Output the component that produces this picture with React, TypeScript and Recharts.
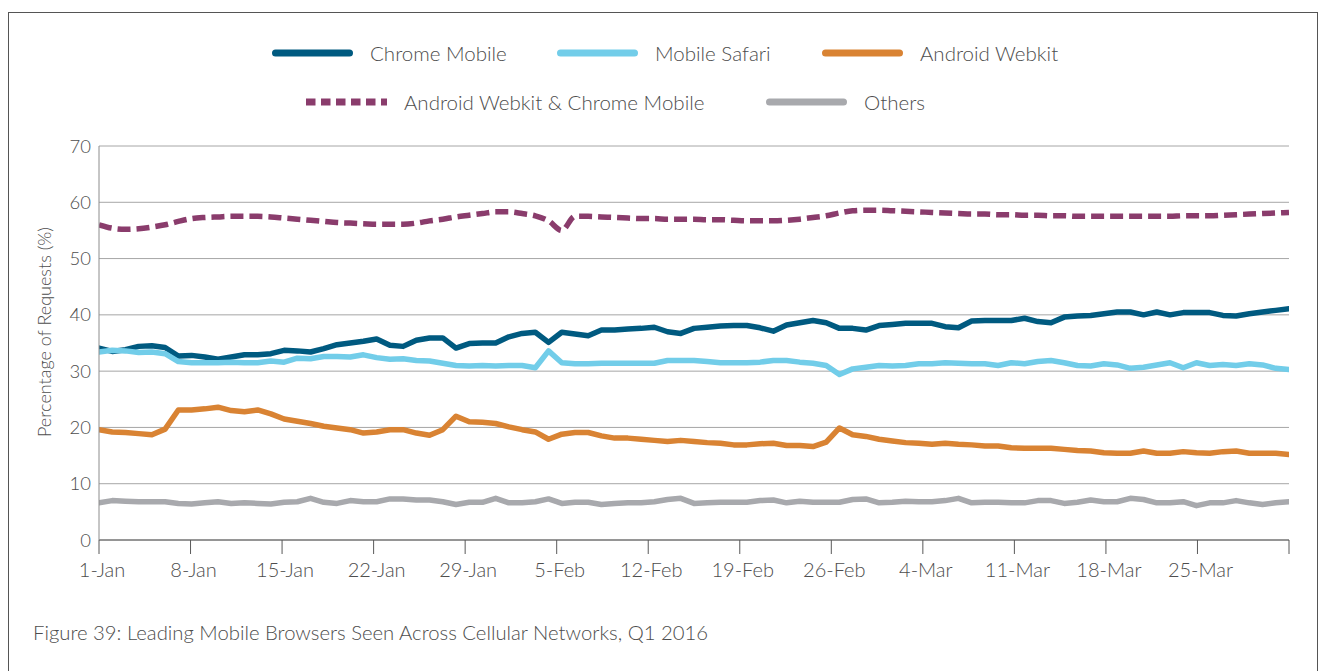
import { LineChart, Line, XAxis, YAxis, CartesianGrid } from 'recharts'

// one value per day, 1-Jan .. 31-Mar 2016
const chromeMobile = [
  34.1, 33.5, 33.8, 34.4, 34.5, 34.2, 32.7, 32.8, 32.5, 32.1, 32.5, 32.9, 32.9, 33.1, 33.7, 33.6,
  33.4, 34.0, 34.7, 35.0, 35.3, 35.7, 34.6, 34.4, 35.5, 35.9, 35.9, 34.1, 34.9, 35.0, 35.0, 36.1,
  36.7, 36.9, 35.1, 36.9, 36.6, 36.3, 37.3, 37.3, 37.5, 37.6, 37.8, 37.0, 36.7, 37.6, 37.8, 38.0,
  38.1, 38.1, 37.7, 37.1, 38.2, 38.6, 39.0, 38.6, 37.6, 37.6, 37.3, 38.1, 38.3, 38.5, 38.5, 38.5,
  37.9, 37.7, 38.9, 39.0, 39.0, 39.0, 39.4, 38.8, 38.6, 39.6, 39.8, 39.9, 40.2, 40.5, 40.5, 40.0,
  40.5, 40.0, 40.4, 40.4, 40.4, 39.9, 39.8, 40.2, 40.5, 40.8, 41.1,
]
const mobileSafari = [
  33.4, 33.7, 33.6, 33.3, 33.4, 33.1, 31.7, 31.5, 31.5, 31.5, 31.6, 31.5, 31.5, 31.8, 31.6, 32.3,
  32.2, 32.6, 32.6, 32.5, 32.9, 32.4, 32.1, 32.2, 31.9, 31.8, 31.4, 31.0, 30.9, 31.0, 30.9, 31.0,
  31.0, 30.6, 33.6, 31.5, 31.3, 31.3, 31.4, 31.4, 31.4, 31.4, 31.4, 31.9, 31.9, 31.9, 31.7, 31.5,
  31.5, 31.5, 31.6, 31.9, 31.9, 31.6, 31.4, 31.0, 29.4, 30.4, 30.7, 31.0, 30.9, 31.0, 31.3, 31.3,
  31.5, 31.4, 31.3, 31.3, 31.0, 31.5, 31.3, 31.7, 31.9, 31.5, 31.0, 30.9, 31.3, 31.1, 30.5, 30.7,
  31.1, 31.5, 30.6, 31.5, 31.0, 31.2, 31.0, 31.3, 31.1, 30.5, 30.3,
]
const androidWebkit = [
  19.6, 19.2, 19.1, 18.9, 18.7, 19.7, 23.1, 23.1, 23.3, 23.6, 23.0, 22.8, 23.1, 22.4, 21.5, 21.1,
  20.7, 20.2, 19.9, 19.6, 19.0, 19.2, 19.6, 19.6, 19.0, 18.6, 19.6, 22.0, 21.0, 20.9, 20.7, 20.1,
  19.6, 19.2, 17.9, 18.8, 19.1, 19.1, 18.5, 18.1, 18.1, 17.9, 17.7, 17.5, 17.7, 17.5, 17.3, 17.2,
  16.9, 16.9, 17.1, 17.2, 16.8, 16.8, 16.6, 17.4, 19.9, 18.7, 18.4, 17.9, 17.6, 17.3, 17.2, 17.0,
  17.2, 17.0, 16.9, 16.7, 16.7, 16.4, 16.3, 16.3, 16.3, 16.1, 15.9, 15.8, 15.5, 15.4, 15.4, 15.8,
  15.4, 15.4, 15.7, 15.5, 15.4, 15.7, 15.8, 15.4, 15.4, 15.4, 15.2,
]
const webkitAndChrome = [
  56.0, 55.4, 55.2, 55.3, 55.6, 56.0, 56.6, 57.1, 57.3, 57.4, 57.5, 57.5, 57.5, 57.4, 57.2, 57.0,
  56.8, 56.6, 56.4, 56.3, 56.2, 56.1, 56.1, 56.1, 56.3, 56.7, 57.0, 57.4, 57.7, 58.0, 58.3, 58.3,
  58.0, 57.6, 56.7, 55.0, 57.5, 57.5, 57.4, 57.3, 57.2, 57.1, 57.1, 57.0, 57.0, 57.0, 56.9, 56.9,
  56.8, 56.7, 56.7, 56.7, 56.8, 57.0, 57.3, 57.6, 58.1, 58.5, 58.6, 58.6, 58.5, 58.4, 58.3, 58.2,
  58.1, 58.0, 57.9, 57.9, 57.8, 57.8, 57.7, 57.7, 57.6, 57.6, 57.5, 57.5, 57.5, 57.5, 57.5, 57.5,
  57.5, 57.5, 57.6, 57.6, 57.6, 57.7, 57.8, 57.9, 58.0, 58.1, 58.2,
]
const others = [
  6.6, 7.0, 6.9, 6.8, 6.8, 6.8, 6.5, 6.4, 6.6, 6.8, 6.5, 6.6, 6.5, 6.4, 6.7, 6.8,
  7.4, 6.7, 6.5, 7.0, 6.8, 6.8, 7.3, 7.3, 7.1, 7.1, 6.8, 6.3, 6.7, 6.7, 7.4, 6.6,
  6.6, 6.8, 7.3, 6.5, 6.7, 6.7, 6.3, 6.5, 6.6, 6.6, 6.8, 7.2, 7.4, 6.5, 6.6, 6.7,
  6.7, 6.7, 7.0, 7.1, 6.6, 6.9, 6.7, 6.7, 6.7, 7.2, 7.3, 6.6, 6.7, 6.9, 6.8, 6.8,
  7.0, 7.4, 6.6, 6.7, 6.7, 6.6, 6.6, 7.0, 7.0, 6.5, 6.7, 7.1, 6.8, 6.8, 7.4, 7.2,
  6.6, 6.6, 6.8, 6.1, 6.6, 6.6, 7.0, 6.6, 6.3, 6.6, 6.8,
]

// weekly labels on the calendar axis (last tick, 1-Apr, has no label)
const WEEK_LABELS = [
  '1-Jan', '8-Jan', '15-Jan', '22-Jan', '29-Jan', '5-Feb', '12-Feb',
  '19-Feb', '26-Feb', '4-Mar', '11-Mar', '18-Mar', '25-Mar', '',
]
const Y_TICKS = [0, 10, 20, 30, 40, 50, 60, 70]

const SERIES = [
  { key: 'chrome', name: 'Chrome Mobile', color: '#005a80', values: chromeMobile, dashed: false },
  { key: 'safari', name: 'Mobile Safari', color: '#72cde9', values: mobileSafari, dashed: false },
  { key: 'webkit', name: 'Android Webkit', color: '#d98333', values: androidWebkit, dashed: false },
  { key: 'combined', name: 'Android Webkit & Chrome Mobile', color: '#8a3c6c', values: webkitAndChrome, dashed: true },
  { key: 'others', name: 'Others', color: '#a8a9ad', values: others, dashed: false },
]

// legend slot positions (px, page coords of icon start / row centre)
const LEGEND_SLOTS = [
  { left: 272, top: 53 },
  { left: 557, top: 53 },
  { left: 822, top: 53 },
  { left: 306, top: 102 },
  { left: 766, top: 102 },
]

const data = chromeMobile.map((_, i) => {
  const row: Record<string, number> = { day: i }
  SERIES.forEach((s) => { row[s.key] = s.values[i] })
  return row
})

const weekTicks = WEEK_LABELS.map((_, i) => i * 7)

const FONT = 'Lato, "Open Sans", sans-serif'
const TEXT = '#4d4d4d'

export default function App() {
  return (
    <div style={{ position: 'absolute', left: 0, top: 0, width: 1319, height: 671, overflow: 'hidden', fontFamily: FONT, fontWeight: 300, background: '#fff' }}>
      <div
        style={{
          position: 'absolute', left: 8, top: 12, width: 1310, height: 659,
          border: '1px solid #555', borderBottom: 'none', boxSizing: 'border-box',
        }}
      />

      {/* legend */}
      {SERIES.map((s, i) => (
        <div
          key={s.key}
          style={{
            position: 'absolute', left: LEGEND_SLOTS[i].left, top: LEGEND_SLOTS[i].top - 14,
            height: 28, display: 'flex', alignItems: 'center', whiteSpace: 'nowrap',
          }}
        >
          <svg width={81} height={8} style={{ marginRight: 17 }}>
            {s.dashed ? (
              <line x1={0} y1={4} x2={81} y2={4} stroke={s.color} strokeWidth={7} strokeDasharray="9.5 5.5" />
            ) : (
              <line x1={3.5} y1={4} x2={77.5} y2={4} stroke={s.color} strokeWidth={7} strokeLinecap="round" />
            )}
          </svg>
          <span style={{ fontSize: 20.5, color: TEXT, lineHeight: 1 }}>{s.name}</span>
        </div>
      ))}

      <div style={{ position: 'absolute', left: 0, top: 0 }}>
        <LineChart width={1319} height={671} data={data} margin={{ top: 146, right: 30, bottom: 71, left: 39 }}>
          <CartesianGrid vertical={false} stroke="#a6a6a6" strokeWidth={1} />
          <XAxis
            xAxisId="days"
            dataKey="day"
            type="number"
            domain={[0, 90]}
            allowDataOverflow
            hide
          />
          <XAxis
            dataKey="day"
            type="number"
            domain={[0, 91]}
            allowDataOverflow
            ticks={weekTicks}
            interval={0}
            tickFormatter={(v: number) => WEEK_LABELS[v / 7] ?? ''}
            height={60}
            tickSize={14}
            tickMargin={9}
            stroke="#595959"
            tick={{ fontSize: 20, fill: TEXT, fontFamily: FONT, fontWeight: 300, dx: 3 }}
          />
          <YAxis
            domain={[0, 70]}
            ticks={Y_TICKS}
            width={60}
            tickLine={false}
            axisLine={{ stroke: '#8c8c8c' }}
            tick={{ fontSize: 18.5, fill: TEXT, fontFamily: FONT, fontWeight: 300 }}
            label={() => (
              <text
                x={44}
                y={332}
                transform="rotate(-90 44 332)"
                textAnchor="middle"
                dominantBaseline="central"
                fontSize={18}
                fontWeight={300}
                fill={TEXT}
                fontFamily={FONT}
              >
                Percentage of Requests (%)
              </text>
            )}
          />
          {SERIES.map((s) => (
            <Line
              key={s.key}
              xAxisId="days"
              dataKey={s.key}
              name={s.name}
              type={s.dashed ? 'monotone' : 'linear'}
              stroke={s.color}
              strokeWidth={5.5}
              strokeDasharray={s.dashed ? '13 6' : undefined}
              strokeLinejoin="round"
              strokeLinecap={s.dashed ? 'butt' : 'round'}
              dot={false}
              activeDot={false}
              isAnimationActive={false}
            />
          ))}
        </LineChart>
      </div>

      <div style={{ position: 'absolute', left: 33, top: 622, fontSize: 20.3, lineHeight: 1, color: TEXT, whiteSpace: 'nowrap' }}>
        Figure 39: Leading Mobile Browsers Seen Across Cellular Networks, Q1 2016
      </div>
    </div>
  )
}
